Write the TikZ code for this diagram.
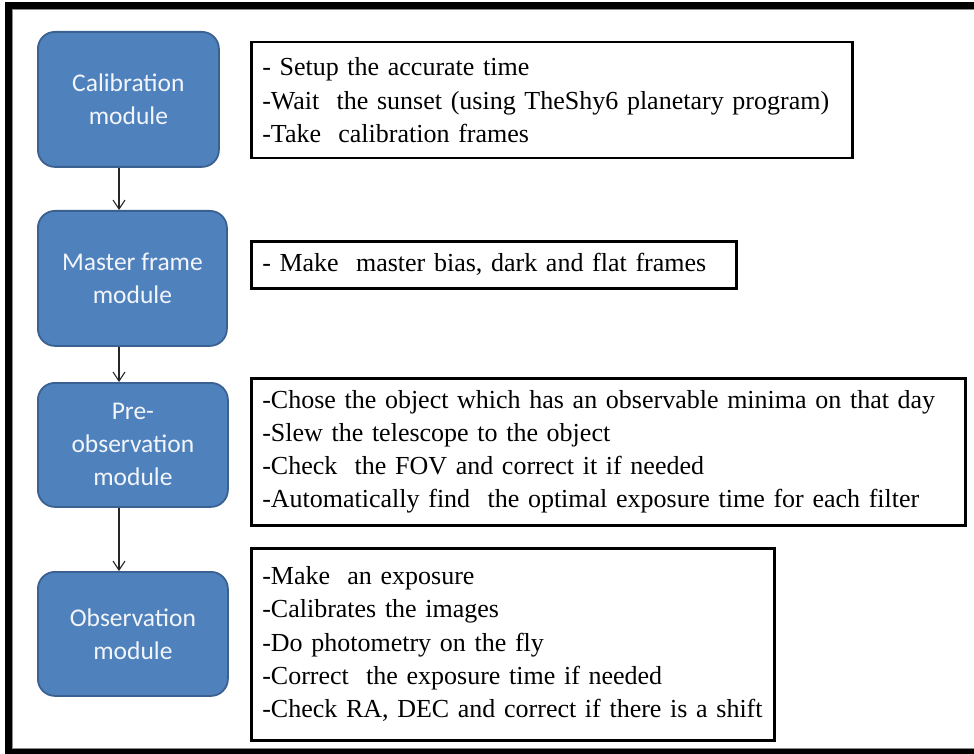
\documentclass[tikz,border=0pt]{standalone}
\usepackage{fontspec}
\setmainfont{Liberation Serif}
\newfontfamily\boxfont{Carlito}
\usetikzlibrary{arrows.meta}
\definecolor{modfill}{HTML}{4F81BD}
\definecolor{moddraw}{HTML}{3A6190}
\definecolor{modtext}{HTML}{F2F5FA}
\tikzset{
  module/.style={draw=moddraw, fill=modfill, line width=1.8pt, rounded corners=17pt,
    anchor=north west, align=center, text=modtext, inner sep=0pt,
    font=\boxfont\fontsize{25.5}{33}\selectfont},
  textbox/.style={draw=black, line width=2.5pt, anchor=north west, align=left,
    inner xsep=11pt, inner ysep=0pt, font=\fontsize{26}{33.3}\selectfont},
  flow/.style={draw=black!85, line width=1.1pt, -{Straight Barb[length=9pt,width=12pt,line width=1.1pt]}}
}
\begin{document}
\begin{tikzpicture}[x=1pt,y=-1pt]
\useasboundingbox (0,0) rectangle (974,754);
\begin{scope}
\clip (0,0) rectangle (974,754);
\draw[line width=7pt, black] (8.5,5.5) rectangle (990,752.5);
\draw[line width=0.8pt, black!45] (12.5,9.5) rectangle (990,748.5);
\end{scope}
% modules
\node[module, minimum width=181pt, minimum height=135pt] (cal) at (37,31) {Calibration\\module};
\node[module, minimum width=189pt, minimum height=135pt] (mas) at (37,210) {Master frame\\module};
\node[module, minimum width=190pt, minimum height=124pt] (pre) at (37,382) {Pre-\\observation\\module};
\node[module, minimum width=190pt, minimum height=124pt] (obs) at (37,571) {Observation\\module};
\coordinate (ax) at (119,0);
\draw[flow] (cal.south -| ax) -- (mas.north -| ax);
\draw[flow] (mas.south -| ax) -- (pre.north -| ax);
\draw[flow] (pre.south -| ax) -- (obs.north -| ax);
% text boxes
\node[textbox, minimum width=601pt, minimum height=116pt, text width=579pt] (t1) at (250,41)
 {- Setup the accurate time\\-Wait\ \ the sunset (using TheShy6 planetary program)\\-Take\ \ calibration frames};
\node[textbox, minimum width=485pt, minimum height=47pt, text width=463pt] (t2) at (250,240)
 {- Make\ \ master bias, dark and flat frames};
\node[textbox, minimum width=714pt, minimum height=147pt, text width=692pt] (t3) at (250,377)
 {-Chose the object which has an observable minima on that day\\-Slew the telescope to the object\\-Check\ \ the FOV and correct it if needed\\-Automatically find\ \ the optimal exposure time for each filter};
\node[textbox, minimum width=523pt, minimum height=192pt, text width=501pt] (t4) at (250,547)
 {-Make\ \ an exposure\\-Calibrates the images\\-Do photometry on the fly\\-Correct\ \ the exposure time if needed\\-Check RA, DEC and correct if there is a shift};
\end{tikzpicture}
\end{document}
